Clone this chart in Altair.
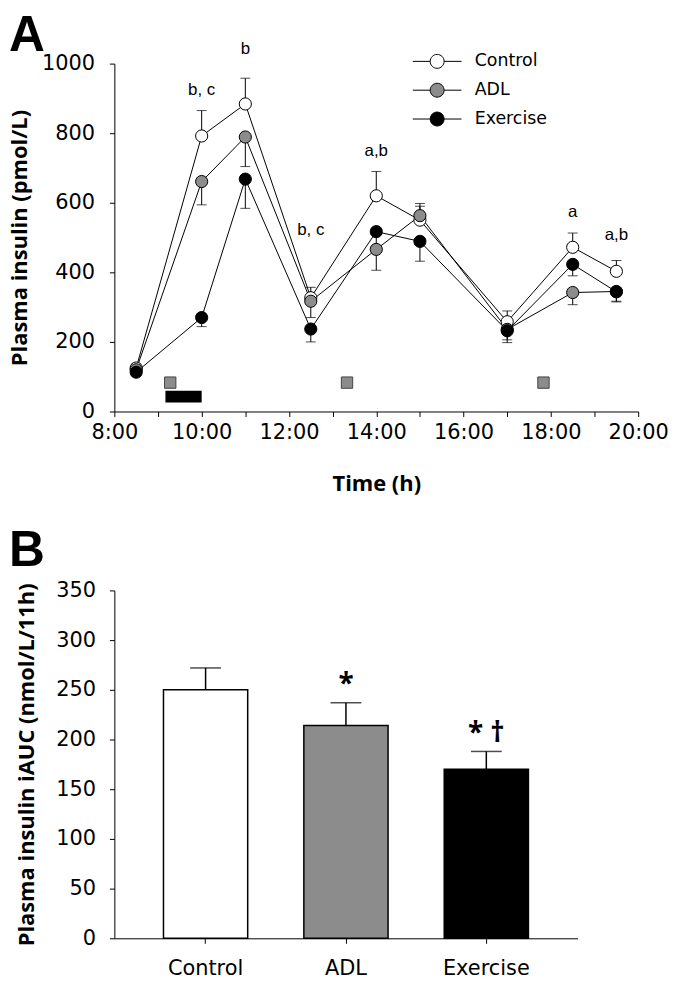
import altair as alt
import pandas as pd

# ---------------- Panel A data ----------------
times = [8.5, 10, 11, 12.5, 14, 15, 17, 18.5, 19.5]
groups = ["Control", "ADL", "Exercise"]
group_colors = ["white", "#8c8c8c", "black"]

control = [125, 792, 884, 327, 620, 550, 258, 472, 403]
control_sem = [12, 73, 74, 30, 70, 40, 31, 41, 31]
control_dir = ["up", "up", "up", "up", "up", "up", "up", "up", "up"]

adl = [120, 661, 789, 317, 466, 563, 236, 342, 345]
adl_sem = [10, 67, 85, 47, 60, 35, 30, 35, 28]
adl_dir = ["down", "down", "down", "down", "down", "up", "down", "down", "down"]

exercise = [113, 270, 668, 237, 517, 489, 232, 423, 344]
exercise_sem = [10, 26, 84, 37, 40, 57, 34, 33, 29]
exercise_dir = ["down", "down", "down", "down", "down", "down", "down", "down", "down"]

ann_text = ["b, c", "b", "b, c", "a,b", "a", "a,b"]
ann_time = [10, 11, 12.5, 14, 18.5, 19.5]
ann_value = [923, 1043, 521, 749, 574, 506]

meal_times = [9.28, 13.33, 17.83]
meal_level = [83, 83, 83]
exercise_start = [9.17]
exercise_end = [10.0]
exercise_low = [26]
exercise_high = [60]

# ---------------- Panel B data ----------------
cats = ["Control", "ADL", "Exercise"]
auc = [250, 214, 170]
auc_sem = [22, 23, 18]
sig = ["", "*", "* \u2020"]

# ---------------- build tables ----------------
rows = []
for g, vals, sems, dirs in [("Control", control, control_sem, control_dir),
                            ("ADL", adl, adl_sem, adl_dir),
                            ("Exercise", exercise, exercise_sem, exercise_dir)]:
    for t, v, s, d in zip(times, vals, sems, dirs):
        rows.append({"group": g, "time": t, "value": v,
                     "err": v + s if d == "up" else v - s})
df = pd.DataFrame(rows)
ann_df = pd.DataFrame({"label": ann_text, "time": ann_time, "value": ann_value})
meal_df = pd.DataFrame({"time": meal_times, "value": meal_level})
ex_df = pd.DataFrame({"time": exercise_start, "time2": exercise_end,
                      "value": exercise_low, "value2": exercise_high})
bdf = pd.DataFrame({"cat": cats, "auc": auc,
                    "top": [a + s for a, s in zip(auc, auc_sem)], "sig": sig})

LFONT = "DejaVu Sans"
TFONT = "Open Sans"

xA = alt.X("time:Q",
           scale=alt.Scale(domain=[8, 20], nice=False, zero=False),
           axis=alt.Axis(values=list(range(8, 21)),
                         labelExpr="datum.value % 2 == 0 ? datum.value + ':00' : ''",
                         title="Time (h)", labelPadding=5, titlePadding=31,
                         labelFlush=False, labelOverlap=False))
yA = alt.Y("value:Q",
           scale=alt.Scale(domain=[0, 1000], nice=False),
           axis=alt.Axis(values=[0, 200, 400, 600, 800, 1000], format="d",
                         title="Plasma insulin (pmol/L)", labelPadding=15,
                         titlePadding=10))

base = alt.Chart(df)
lines = base.mark_line(color="black", strokeWidth=1).encode(x=xA, y=yA, detail="group:N")
ebar = base.mark_rule(color="black", strokeWidth=1).encode(x=xA, y=yA, y2="err:Q")
ecap = base.mark_tick(color="black", size=10, thickness=1, orient="horizontal").encode(
    x=xA, y=alt.Y("err:Q"))
legend_path = "M-3.5,0L-1,0M1,0L3.5,0M1,0A1,1,0,1,1,-1,0A1,1,0,1,1,1,0Z"
pts = base.mark_point(filled=True, shape="circle", size=150, stroke="black",
                      strokeWidth=1, opacity=1).encode(
    x=xA, y=yA,
    fill=alt.Fill("group:N", sort=groups,
                  scale=alt.Scale(domain=groups, range=group_colors),
                  legend=alt.Legend(title=None, orient="none", legendX=316, legendY=-11,
                                    symbolType=legend_path, symbolSize=196,
                                    symbolStrokeColor="black", symbolStrokeWidth=1,
                                    symbolOpacity=1, labelFont=LFONT, labelFontSize=17.5,
                                    labelColor="black", labelOffset=29, rowPadding=10)))
ann = alt.Chart(ann_df).mark_text(font="Liberation Sans", fontSize=17, color="black",
                                  baseline="middle").encode(x=xA, y=yA, text="label:N")
meals = alt.Chart(meal_df).mark_square(size=130, fill="#8c8c8c", stroke="#444444",
                                       strokeWidth=1, opacity=1).encode(x=xA, y=yA)
exbar = alt.Chart(ex_df).mark_rect(color="black").encode(x=xA, x2="time2:Q", y=yA, y2="value2:Q")
labA = alt.Chart(pd.DataFrame({"t": ["A"]})).mark_text(
    font="Liberation Sans", fontWeight="bold", fontSize=50, align="left",
    baseline="alphabetic", color="black").encode(text="t:N", x=alt.value(-106), y=alt.value(-12.5))

panelA = alt.layer(exbar, meals, lines, ebar, ecap, pts, ann, labA).properties(width=527, height=350)

# ---------------- Panel B ----------------
xB = alt.X("cat:N", sort=cats,
           scale=alt.Scale(domain=cats, paddingInner=0.4, paddingOuter=0.35),
           axis=alt.Axis(title=None, labelAngle=0, labelPadding=14))
yB = alt.Y("auc:Q", scale=alt.Scale(domain=[0, 350], nice=False),
           axis=alt.Axis(values=[0, 50, 100, 150, 200, 250, 300, 350], format="d",
                         title="Plasma insulin iAUC (nmol/L/11h)", labelPadding=14,
                         titlePadding=17))
bb = alt.Chart(bdf)
bars = bb.mark_bar(stroke="black", strokeWidth=1.5).encode(
    x=xB, y=yB,
    fill=alt.Fill("cat:N", scale=alt.Scale(domain=cats, range=group_colors), legend=None))
brule = bb.mark_rule(color="black", strokeWidth=1.5).encode(x=xB, y=yB, y2="top:Q")
bcap = bb.mark_tick(color="black", size=31, thickness=1.5, orient="horizontal").encode(
    x=xB, y=alt.Y("top:Q"))
btext = bb.mark_text(font=TFONT, fontWeight="bold", fontSize=28, color="black",
                     baseline="alphabetic", dy=-10).encode(x=xB, y=alt.Y("top:Q"), text="sig:N")
labB = alt.Chart(pd.DataFrame({"t": ["B"]})).mark_text(
    font="Liberation Sans", fontWeight="bold", fontSize=50, align="left",
    baseline="alphabetic", color="black").encode(text="t:N", x=alt.value(-106), y=alt.value(-25))

panelB = alt.layer(bars, brule, bcap, btext, labB).properties(width=466, height=350)

chart = alt.vconcat(panelA, panelB, spacing=32).resolve_scale(fill="independent").properties(
    padding=0
).configure_view(stroke=None).configure_axis(
    labelFont=LFONT, labelFontSize=21, labelColor="black",
    titleFont=TFONT, titleFontSize=22, titleFontWeight="bold", titleColor="black",
    domainColor="black", tickColor="black", grid=False, tickSize=5,
    domainWidth=1, tickWidth=1
)

chart.save("out.html", embed_options={"renderer": "svg", "actions": False})
